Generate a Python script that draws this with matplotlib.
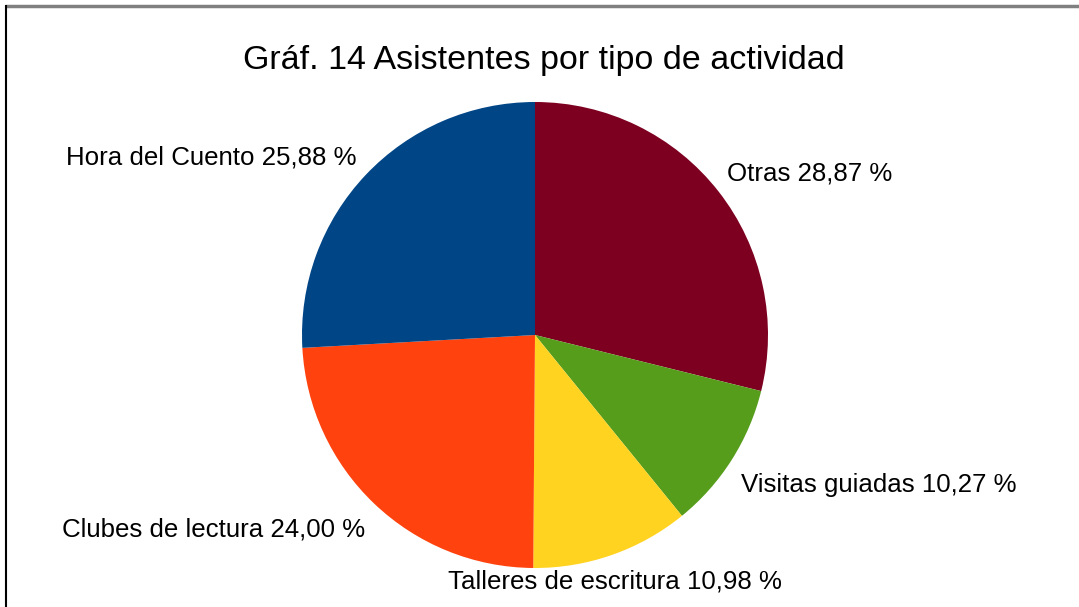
import numpy as np
from matplotlib import pyplot as plt

plt.rcParams['font.family'] = ['Liberation Sans', 'DejaVu Sans']

# datos del gráfico
categorias = ['Otras', 'Visitas guiadas', 'Talleres de escritura', 'Clubes de lectura', 'Hora del Cuento']
porcentajes = [28.87, 10.27, 10.98, 24.00, 25.88]
colores = ['#7E0021', '#579D1C', '#FFD320', '#FF420E', '#004586']
titulo = 'Gráf. 14 Asistentes por tipo de actividad'

W, H = 1079, 607
fig = plt.figure(figsize=(W / 100, H / 100), dpi=100)
ax = fig.add_axes([0, 0, 1, 1])

cx, cy, r = 535, H - 335, 233
ax.pie(porcentajes, colors=colores, startangle=90, counterclock=False,
       center=(cx, cy), radius=r, wedgeprops={'linewidth': 0}, frame=True)
ax.set_xlim(0, W)
ax.set_ylim(0, H)
ax.set_aspect('equal')
ax.axis('off')

# posición de las etiquetas (píxeles desde arriba a la izquierda, línea base) y alineación
pos_etiq = [(727, 180, 'left'), (741, 492, 'left'),
            (615, 588, 'center'), (365, 537, 'right'),
            (357, 165, 'right')]
for cat, p, (x, y, ha) in zip(categorias, porcentajes, pos_etiq):
    txt = f'{cat} {p:.2f} %'.replace('.', ',')
    ax.text(x, H - y, txt, ha=ha, va='baseline', fontsize=18.6, color='black')

ax.text(544, H - 60, titulo, ha='center', va='center', fontsize=24.5, color='black')

# marco
ax.plot([5, W], [H - 5.5, H - 5.5], color='#808080', lw=2.5, solid_capstyle='butt')
ax.plot([5.5, 5.5], [0, H - 5], color='black', lw=1.5, solid_capstyle='butt')

plt.savefig('out.png', dpi=100)
